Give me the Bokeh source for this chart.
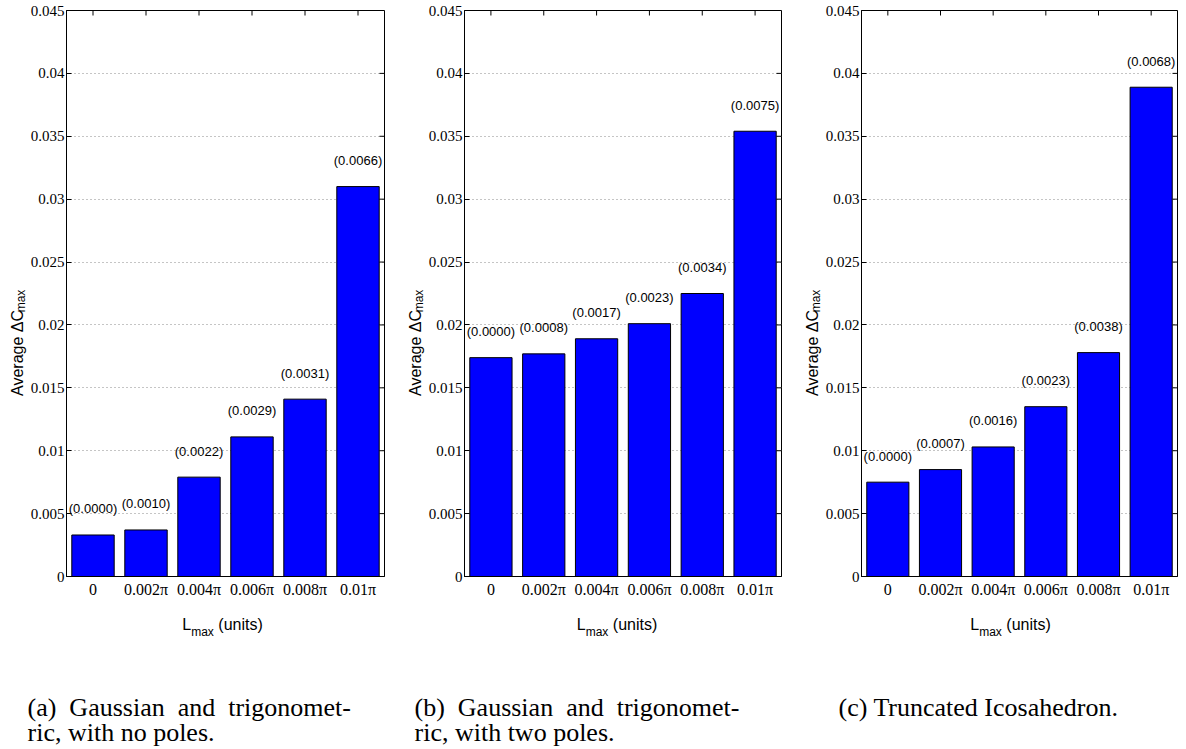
import math
from bokeh.plotting import figure
from bokeh.layouts import row, column
from bokeh.models import Range1d, FixedTicker, NumeralTickFormatter, ColumnDataSource
from bokeh.core.properties import value
from bokeh.embed import file_html
from bokeh.resources import INLINE

# ---------------- data ----------------
categories = ["0", "0.002\u03c0", "0.004\u03c0", "0.006\u03c0", "0.008\u03c0", "0.01\u03c0"]

vals_a = [0.0033, 0.0037, 0.0079, 0.0111, 0.0141, 0.0310]
std_a = ["(0.0000)", "(0.0010)", "(0.0022)", "(0.0029)", "(0.0031)", "(0.0066)"]

vals_b = [0.0174, 0.0177, 0.0189, 0.0201, 0.0225, 0.0354]
std_b = ["(0.0000)", "(0.0008)", "(0.0017)", "(0.0023)", "(0.0034)", "(0.0075)"]

vals_c = [0.0075, 0.0085, 0.0103, 0.0135, 0.0178, 0.0389]
std_c = ["(0.0000)", "(0.0007)", "(0.0016)", "(0.0023)", "(0.0038)", "(0.0068)"]

y_ticks = [0, 0.005, 0.01, 0.015, 0.02, 0.025, 0.03, 0.035, 0.04, 0.045]
y_max = 0.045

caption_a = ["(a)\u2002Gaussian\u2002and\u2002trigonomet-", "ric, with no poles."]
caption_b = ["(b)\u2002Gaussian\u2002and\u2002trigonomet-", "ric, with two poles."]
caption_c = ["(c) Truncated Icosahedron."]

ylabel_main, ylabel_sub = "Average \u0394C", "max"
xlabel_main, xlabel_sub, xlabel_rest = "L", "max", "(units)"

# ---------------- styling / layout ----------------
SERIF = "Liberation Serif"
SANS = "Liberation Sans"
TOP_H = 602          # height of the chart row
FRAME_H = 566
BORDER_TOP = 10
BOTTOM_H = 146       # height of the caption strip
YLAB_W = 27
LEFT_B = 36


def blank(w, h):
    f = figure(width=w, height=h, x_range=Range1d(0, w), y_range=Range1d(0, h),
               x_axis_location=None, y_axis_location=None, toolbar_location=None,
               output_backend="svg", min_border=0)
    f.outline_line_color = None
    f.grid.grid_line_color = None
    f.background_fill_color = "white"
    f.border_fill_color = "white"
    return f


def ylabel_fig():
    f = blank(YLAB_W, TOP_H)
    y0 = TOP_H - 410
    f.text(x=[17], y=[y0], text=[ylabel_main], angle=math.pi / 2,
           text_font=value(SANS), text_font_size="16px", text_align="left",
           text_baseline="alphabetic", text_color="black")
    f.text(x=[20.5], y=[y0 + 89], text=[ylabel_sub], angle=math.pi / 2,
           text_font=value(SANS), text_font_size="12px", text_align="left",
           text_baseline="alphabetic", text_color="black")
    return f


def main_fig(vals, stds, fw, br):
    p = figure(frame_width=fw, frame_height=FRAME_H,
               x_range=Range1d(0.5, len(categories) + 0.5), y_range=Range1d(0, y_max),
               output_backend="svg", toolbar_location=None,
               min_border_left=LEFT_B, min_border_right=br,
               min_border_top=BORDER_TOP, min_border_bottom=TOP_H - BORDER_TOP - FRAME_H)
    p.background_fill_color = "white"
    p.border_fill_color = "white"
    p.outline_line_color = "black"
    p.outline_line_width = 1

    xs = list(range(1, len(categories) + 1))

    xa = p.xaxis[0]
    xa.ticker = FixedTicker(ticks=xs)
    xa.major_label_overrides = {i: c for i, c in zip(xs, categories)}
    xa.major_tick_in = 0
    xa.major_tick_out = 0
    xa.minor_tick_in = 0
    xa.minor_tick_out = 0
    xa.axis_line_color = "black"
    xa.major_label_text_font = SERIF
    xa.major_label_text_font_size = "16px"
    xa.major_label_text_color = "black"
    xa.major_label_standoff = 4

    ya = p.yaxis[0]
    ya.ticker = FixedTicker(ticks=y_ticks)
    ya.formatter = NumeralTickFormatter(format="0.[000]")
    ya.major_tick_in = 5
    ya.major_tick_out = 0
    ya.minor_tick_in = 0
    ya.minor_tick_out = 0
    ya.axis_line_color = "black"
    ya.major_label_text_font = SERIF
    ya.major_label_text_font_size = "15px"
    ya.major_label_text_color = "black"
    ya.major_label_standoff = 2

    p.xgrid.visible = False
    p.ygrid.grid_line_color = "#8a8a8a"
    p.ygrid.grid_line_dash = "1 3"
    p.ygrid.grid_line_width = 1

    src = ColumnDataSource(dict(x=xs, top=vals, lab=stds))
    p.vbar(x="x", top="top", bottom=0, width=0.8, source=src,
           fill_color="#0000ff", line_color="black", line_width=1)
    p.text(x="x", y="top", text="lab", source=src, text_font=value(SANS),
           text_font_size="13px", text_align="center", text_baseline="middle",
           y_offset=-26, text_color="black")

    # inward ticks on the right and top edges of the box
    p.ray(x=[len(categories) + 0.5] * len(y_ticks), y=y_ticks, length=5,
          length_units="screen", angle=math.pi, line_color="black", line_width=1)
    p.ray(x=xs, y=[y_max] * len(xs), length=5, length_units="screen",
          angle=-math.pi / 2, line_color="black", line_width=1)
    return p


pa = main_fig(vals_a, std_a, 318, 14)
pb = main_fig(vals_b, std_b, 317, 14)
pc = main_fig(vals_c, std_c, 316, 10)

top = row(ylabel_fig(), pa, ylabel_fig(), pb, ylabel_fig(), pc)

# bottom strip: x-axis labels and captions
total_w = YLAB_W * 3 + (LEFT_B + 318 + 14) + (LEFT_B + 317 + 14) + (LEFT_B + 316 + 10)
bottom = blank(total_w, BOTTOM_H)
ref_bottom = TOP_H + BOTTOM_H


def ypos(page_y):
    return ref_bottom - page_y


centers = [222, 616.5, 1010]
for cx in centers:
    x0 = cx - 40.2
    bottom.text(x=[x0], y=[ypos(624)], text=[xlabel_main], text_font=value(SANS),
                text_font_size="16px", text_align="left", text_baseline="alphabetic",
                text_color="black")
    bottom.text(x=[x0 + 8.9], y=[ypos(631)], text=[xlabel_sub], text_font=value(SANS),
                text_font_size="12px", text_align="left", text_baseline="alphabetic",
                text_color="black")
    bottom.text(x=[x0 + 36.0], y=[ypos(624)], text=[xlabel_rest], text_font=value(SANS),
                text_font_size="16px", text_align="left", text_baseline="alphabetic",
                text_color="black")

for cap, cx in zip([caption_a, caption_b, caption_c], [27, 414, 838]):
    for i, line in enumerate(cap):
        bottom.text(x=[cx], y=[ypos(707 + 25 * i)], text=[line], text_font=value(SERIF),
                    text_font_size="26px", text_align="left", text_baseline="alphabetic",
                    text_color="black")

layout = column(top, bottom)

open("out.html", "w").write(file_html(layout, INLINE))
